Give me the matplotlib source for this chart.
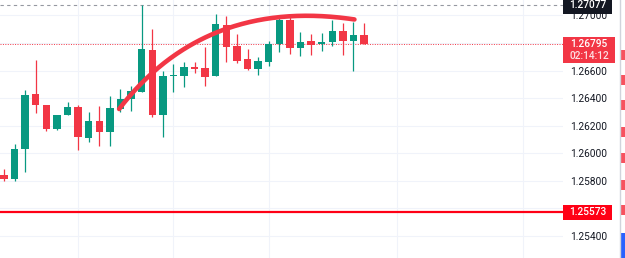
import numpy as np
import matplotlib
matplotlib.use('Agg')
import matplotlib.pyplot as plt
import matplotlib.transforms as mtransforms
from matplotlib.patches import Rectangle

# OHLC values (35 bars)
opens = [1.25843, 1.25814, 1.26029, 1.26430, 1.26350, 1.26178, 1.26275, 1.26336, 1.26111,
         1.26234, 1.26154, 1.26321, 1.26391, 1.26446, 1.26751, 1.26278, 1.26562, 1.26562,
         1.26623, 1.26618, 1.26558, 1.26930, 1.26775, 1.26683, 1.26613, 1.26664, 1.26792,
         1.26966, 1.26761, 1.26812, 1.26790, 1.26804, 1.26888, 1.26816, 1.26857]
highs = [1.25888, 1.26065, 1.26459, 1.26676, 1.26350, 1.26278, 1.26372, 1.26350, 1.26301,
         1.26343, 1.26415, 1.26466, 1.26488, 1.27077, 1.26899, 1.26599, 1.26645, 1.26664,
         1.26664, 1.26768, 1.27009, 1.26997, 1.26862, 1.26754, 1.26700, 1.26812, 1.26997,
         1.26986, 1.26879, 1.26862, 1.26870, 1.26966, 1.26946, 1.26949, 1.26942]
lows = [1.25801, 1.25801, 1.25867, 1.26294, 1.26164, 1.26169, 1.26275, 1.26024, 1.26082,
        1.26053, 1.26055, 1.26301, 1.26309, 1.26446, 1.26261, 1.26118, 1.26442, 1.26478,
        1.26580, 1.26488, 1.26558, 1.26659, 1.26652, 1.26606, 1.26570, 1.26633, 1.26732,
        1.26720, 1.26707, 1.26712, 1.26743, 1.26780, 1.26712, 1.26599, 1.26790]
closes = [1.25814, 1.26029, 1.26425, 1.26348, 1.26178, 1.26278, 1.26336, 1.26116, 1.26234,
          1.26154, 1.26328, 1.26393, 1.26449, 1.26756, 1.26275, 1.26560, 1.26566, 1.26625,
          1.26611, 1.26555, 1.26935, 1.26772, 1.26667, 1.26613, 1.26667, 1.26794, 1.26968,
          1.26761, 1.26809, 1.26787, 1.26804, 1.26888, 1.26816, 1.26857, 1.26795]

high_level = 1.27077
last_price = 1.26795
countdown = '02:14:12'
support_level = 1.25573

# arc drawing anchors (bar index, price): start, control, end
arc_x = [10.87, 19.0, 33.1]
arc_y = [1.26321, 1.27131, 1.26970]

tick_values = [1.254, 1.256, 1.258, 1.260, 1.262, 1.264, 1.266, 1.268, 1.270]
vgrid_bars = [7, 16, 25, 37.1, 49]

UP = '#089981'
DOWN = '#F23645'
TXT = '#131722'

fig = plt.figure(figsize=(6.25, 2.58), dpi=100)
ax = fig.add_axes([0, 0, 563 / 625, 1])
ax.set_xlim(-0.38, 52.8)
ax.set_ylim(1.25241, 1.27111)

# grid
for v in tick_values:
    ax.axhline(v, color='#f0f3fa', lw=0.8, zorder=0)
for b in vgrid_bars:
    ax.axvline(b, color='#f0f3fa', lw=0.8, zorder=0)

# candles
idx = np.arange(len(opens))
o = np.array(opens)
c = np.array(closes)
colors = [UP if cc >= oo else DOWN for oo, cc in zip(o, c)]
ax.vlines(idx, lows, highs, colors=colors, lw=0.9, zorder=2)
body_lo = np.minimum(o, c)
body_h = np.maximum(np.abs(c - o), 0.00009)
ax.bar(idx, body_h, bottom=body_lo, width=0.7, color=colors, zorder=3)

# arc drawing (quadratic curve through the three anchors)
t = np.linspace(0, 1, 200)
bx = (1 - t) ** 2 * arc_x[0] + 2 * t * (1 - t) * arc_x[1] + t ** 2 * arc_x[2]
by = (1 - t) ** 2 * arc_y[0] + 2 * t * (1 - t) * arc_y[1] + t ** 2 * arc_y[2]
ax.plot(bx, by, color=DOWN, lw=3.3, solid_capstyle='round', zorder=4)

# horizontal levels
ax.axhline(high_level, color='#9598a1', lw=0.8, ls=(0, (3, 3)), zorder=1)
ax.axhline(last_price, color=DOWN, lw=0.7, ls=(0, (1, 1.5)), zorder=1)
ax.axhline(support_level, color='#ff0015', lw=1.6, zorder=4)

# price scale
ax.yaxis.tick_right()
ax.set_yticks(tick_values)
ax.set_yticklabels([f'{v:.5f}' for v in tick_values], fontsize=7.3,
                   color=TXT, family=['Roboto', 'DejaVu Sans'])
ax.tick_params(axis='y', length=0, pad=5)
ax.set_xticks([])
for s in ax.spines.values():
    s.set_visible(False)

# price labels on the scale
tr = mtransforms.blended_transform_factory(fig.transFigure, ax.transData)
ppx = 1 / 13800  # price per pixel


def price_box(y, w, h_px, fc, lines):
    fig.patches.append(Rectangle((563 / 625, y - h_px / 2 * ppx), w / 625, h_px * ppx,
                                 transform=tr, fc=fc, ec='none', zorder=10))
    for txt, dy, col in lines:
        fig.text((563 + w / 2) / 625, y - dy * ppx, txt, transform=tr,
                 ha='center', va='center', fontsize=7.3, color=col,
                 family=['Roboto', 'DejaVu Sans'], fontweight='medium', zorder=11)


# hide the grid tick labels covered by boxes
for lbl, v in zip(ax.get_yticklabels(), tick_values):
    if v in (1.268, 1.256):
        lbl.set_visible(False)

price_box(high_level, 49, 18, '#131722', [(f'{high_level:.5f}', 0, 'white')])
price_box(last_price - 6 * ppx, 52, 26, DOWN,
          [(f'{last_price:.5f}', -6, 'white'), (countdown, 6, '#fde0e3')])
price_box(support_level, 49, 15, '#ff0015', [(f'{support_level:.5f}', 0, 'white')])

# right edge panel separator and bits of the side toolbar
fig.add_artist(plt.Line2D([619.5 / 625] * 2, [0, 1], color='#d1d4dc', lw=1.0))
for ytop in [50, 75, 100, 127, 153, 180, 205]:
    fig.patches.append(Rectangle((621 / 625, 1 - (ytop + 10) / 258), 4 / 625, 10 / 258,
                                 transform=fig.transFigure, fc='#f7525f', ec='none'))
fig.patches.append(Rectangle((621 / 625, 0), 4 / 625, 25 / 258,
                             transform=fig.transFigure, fc='#2962ff', ec='none'))

fig.savefig('out.png', dpi=100)
